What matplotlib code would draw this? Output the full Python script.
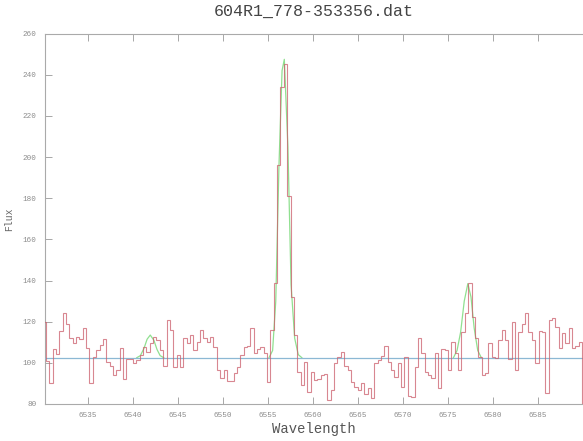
import numpy as np
import matplotlib
matplotlib.use('Agg')
import matplotlib.pyplot as plt

# espectro observado (bins de ancho fijo)
lam_inicio = 6530.3
dlam = 0.3725
flujo = [
    101, 90, 106.7, 104.3, 115.6, 124, 119, 112, 109.5, 112.7,
    111.4, 116.7, 107, 90, 103, 106, 108.6, 111.4, 100.5, 98.4,
    94, 96.5, 107, 92, 102, 102, 99.7, 101.4, 103.8, 107.8,
    105.4, 109.5, 112.7, 111, 106, 98.4, 120.8, 116, 98, 103.8,
    97.8, 112, 109.5, 113.5, 106, 110, 116.2, 112, 110, 112.7,
    107.8, 96.5, 92.5, 96.5, 91, 91, 95, 98,
    103.8, 107.5, 108, 116.7, 105, 106.5, 107.8, 105, 90.8, 116,
    139, 196, 234, 245, 181, 132, 113.5, 95.7, 89, 100.5,
    86, 95.7, 91.7, 92, 94, 94.5, 82, 86.8, 99.7, 103,
    105.4, 98.4, 96.5, 90.8, 88.4, 86.8, 90, 85, 87.6, 82.8,
    99.7, 101.4, 103.3, 108, 100.5, 96.5, 93.3, 99.7, 88.4, 103,
    84, 83.5, 98, 112, 104.6, 95.7,
    94, 92.5, 104.6, 87.6, 106.5, 106, 96.5, 110.3, 104.6, 96.5,
    115, 124, 139, 122.4, 111.9, 103, 94, 94.9, 109.5, 103,
    102.5, 111, 115.9, 111, 101.8, 120, 96.5, 115, 119, 124,
    115, 111, 99.7, 115.6, 115, 85.2, 120.8, 121.6, 117.5, 107,
    114.3, 109.5, 116.7, 107, 108, 110,
]
flujo_borde = 120  # bin parcialmente fuera del eje

# continuo
continuo = 102.5

# ajuste (verde) cerca de cada linea
ajuste1_lam = [6540.4, 6540.8, 6541.2, 6541.55, 6541.9, 6542.3, 6542.65, 6543.0, 6543.4]
ajuste1_flujo = [102.5, 103.5, 107, 111.5, 113.5, 111, 106.5, 103.5, 102.5]
ajuste2_lam = [6555.1, 6555.5, 6555.85, 6556.2, 6556.55, 6556.8, 6557.2, 6557.55, 6557.95, 6558.35, 6558.75]
ajuste2_flujo = [102.5, 106, 130, 195, 242, 247.5, 205, 138, 112, 104, 102.5]
ajuste3_lam = [6575.6, 6576.0, 6576.4, 6576.8, 6577.2, 6577.55, 6577.9, 6578.3, 6578.7]
ajuste3_flujo = [102.5, 106, 115, 130, 138.5, 132, 117, 106, 102.5]

xticks = [6535, 6540, 6545, 6550, 6555, 6560, 6565, 6570, 6575, 6580, 6585]
yticks = [80, 100, 120, 140, 160, 180, 200, 220, 240, 260]

mono = 'Liberation Mono'

fig = plt.figure(figsize=(5.83, 4.41), dpi=100)
ax = fig.add_axes([45 / 583, 1 - 404 / 441, 538 / 583, (404 - 33.6) / 441])

# bordes de los bins
valores = [flujo_borde] + flujo
bordes = lam_inicio - dlam + dlam * np.arange(len(valores) + 1)

for lx, ly in [(ajuste1_lam, ajuste1_flujo), (ajuste2_lam, ajuste2_flujo), (ajuste3_lam, ajuste3_flujo)]:
    ax.plot(lx, ly, color='#90e090', linewidth=0.9, zorder=2)

ax.axhline(continuo, color='#8cb8d4', linewidth=0.9, zorder=3)
ax.stairs(valores, bordes, color='#cc5f6c', linewidth=0.8, alpha=0.75, zorder=4)

ax.set_xlim(6530.2, 6590)
ax.set_ylim(80, 260)
ax.set_xticks(xticks)
ax.set_yticks(yticks)
ax.tick_params(direction='in', length=5, width=0.6, colors='#999999',
               labelcolor='#8c8c8c', labelsize=5.5, top=True, pad=6)
for lab in ax.get_xticklabels() + ax.get_yticklabels():
    lab.set_fontfamily(mono)

for s in ['left', 'bottom', 'top']:
    ax.spines[s].set_color('#aaaaaa')
    ax.spines[s].set_linewidth(0.8)
ax.spines['right'].set_visible(False)

ax.set_title("604R1_778-353356.dat", fontsize=12, color='#444444', family=mono, pad=13)
ax.set_xlabel("Wavelength", fontsize=10, color='#555555', family=mono, labelpad=2)
ax.set_ylabel("Flux", fontsize=7, color='#666666', family=mono, labelpad=6)

plt.savefig("out.png", dpi=100)
